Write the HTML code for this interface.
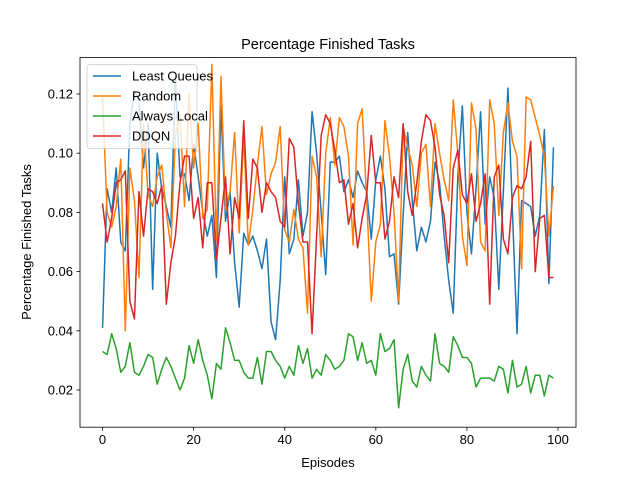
<!DOCTYPE html>
<html><head><meta charset="utf-8"><style>
body{margin:0;background:#fff}
svg{display:block;font-family:"Liberation Sans","DejaVu Sans",sans-serif}
</style></head><body>
<svg id="chart" width="640" height="480" viewBox="0 0 640 480">
<rect width="640" height="480" fill="#fff"/>
<text x="328" y="49" text-anchor="middle" font-size="14.5">Percentage Finished Tasks</text>
<text x="328" y="467" text-anchor="middle" font-size="13">Episodes</text>
<text transform="translate(31,242) rotate(-90)" text-anchor="middle" font-size="13">Percentage Finished Tasks</text>
<g id="plot"></g>
</svg>
<script>
const xTicks = [0, 20, 40, 60, 80, 100];
const yTicks = [0.02, 0.04, 0.06, 0.08, 0.10, 0.12];
const yTickLabels = ["0.02", "0.04", "0.06", "0.08", "0.10", "0.12"];
const seriesNames = ["Least Queues", "Random", "Always Local", "DDQN"];
const leastQueues = [0.041,0.088,0.080,0.095,0.070,0.067,0.110,0.121,0.118,0.095,0.110,0.054,0.100,0.088,0.082,0.075,0.126,0.092,0.093,0.084,0.103,0.092,0.080,0.072,0.079,0.058,0.116,0.077,0.087,0.063,0.048,0.073,0.069,0.072,0.067,0.061,0.071,0.043,0.037,0.057,0.092,0.066,0.071,0.091,0.072,0.080,0.114,0.100,0.080,0.059,0.097,0.097,0.099,0.087,0.091,0.085,0.094,0.090,0.087,0.071,0.091,0.099,0.088,0.065,0.066,0.049,0.079,0.107,0.084,0.067,0.075,0.070,0.077,0.097,0.090,0.072,0.057,0.046,0.092,0.116,0.080,0.066,0.088,0.114,0.076,0.092,0.085,0.054,0.087,0.122,0.080,0.039,0.084,0.083,0.082,0.072,0.079,0.108,0.056,0.102];
const random = [0.119,0.080,0.075,0.082,0.098,0.040,0.095,0.084,0.058,0.110,0.086,0.082,0.092,0.096,0.080,0.068,0.106,0.113,0.082,0.120,0.095,0.110,0.078,0.081,0.130,0.070,0.126,0.081,0.087,0.107,0.073,0.106,0.069,0.081,0.096,0.109,0.086,0.093,0.097,0.109,0.074,0.070,0.081,0.071,0.068,0.046,0.099,0.092,0.065,0.100,0.112,0.096,0.112,0.109,0.099,0.069,0.110,0.115,0.084,0.050,0.070,0.076,0.111,0.099,0.080,0.050,0.109,0.102,0.096,0.082,0.100,0.103,0.082,0.110,0.100,0.091,0.084,0.118,0.100,0.072,0.062,0.117,0.108,0.070,0.067,0.118,0.110,0.079,0.107,0.117,0.104,0.099,0.061,0.119,0.118,0.112,0.106,0.099,0.072,0.089];
const alwaysLocal = [0.033,0.032,0.039,0.034,0.026,0.028,0.036,0.026,0.025,0.028,0.032,0.031,0.022,0.027,0.031,0.028,0.024,0.020,0.024,0.035,0.029,0.037,0.030,0.025,0.017,0.029,0.027,0.041,0.036,0.030,0.030,0.026,0.024,0.024,0.031,0.022,0.033,0.033,0.030,0.028,0.024,0.028,0.025,0.035,0.029,0.034,0.024,0.027,0.025,0.032,0.030,0.027,0.028,0.030,0.039,0.038,0.030,0.036,0.029,0.030,0.025,0.039,0.033,0.034,0.037,0.014,0.027,0.032,0.023,0.021,0.028,0.025,0.023,0.039,0.029,0.028,0.026,0.038,0.035,0.031,0.031,0.029,0.021,0.024,0.024,0.024,0.023,0.028,0.027,0.019,0.030,0.021,0.022,0.028,0.019,0.025,0.025,0.018,0.025,0.024];
const ddqn = [0.083,0.070,0.078,0.090,0.091,0.094,0.050,0.044,0.087,0.072,0.088,0.087,0.083,0.089,0.049,0.063,0.072,0.090,0.099,0.099,0.078,0.085,0.068,0.090,0.090,0.064,0.078,0.092,0.066,0.085,0.078,0.111,0.078,0.098,0.095,0.080,0.090,0.087,0.085,0.077,0.075,0.105,0.102,0.083,0.070,0.070,0.039,0.072,0.106,0.113,0.110,0.101,0.090,0.091,0.076,0.083,0.068,0.078,0.086,0.106,0.090,0.090,0.071,0.077,0.092,0.085,0.110,0.087,0.079,0.090,0.104,0.113,0.111,0.102,0.086,0.079,0.063,0.095,0.101,0.086,0.083,0.093,0.077,0.083,0.093,0.049,0.092,0.096,0.071,0.066,0.085,0.089,0.088,0.092,0.104,0.060,0.078,0.079,0.058,0.058];

const NS = "http://www.w3.org/2000/svg";
const L = 80, R = 576, T = 57.6, B = 427.2;
const xMin = -4.95, xMax = 103.95;
const yMin = 0.02 - 37.2/2960, yMax = 0.02 + 332.4/2960;
function xs(v){ return L + (v - xMin) / (xMax - xMin) * (R - L); }
function ys(v){ return B - (v - yMin) / (yMax - yMin) * (B - T); }
const plot = document.getElementById("plot");
function mk(tag, attrs){ const e = document.createElementNS(NS, tag); for (const k in attrs) e.setAttribute(k, attrs[k]); return e; }

const colors = ["#1f77b4", "#ff7f0e", "#2ca02c", "#d62728"];
const allSeries = [leastQueues, random, alwaysLocal, ddqn];
const sNames = ["least-queues-line", "random-line", "always-local-line", "ddqn-line"];
allSeries.forEach((s, i) => {
  const d = s.map((v, j) => (j ? "L" : "M") + xs(j).toFixed(2) + "," + ys(v).toFixed(2)).join("");
  const p = mk("path", {d: d, fill: "none", stroke: colors[i], "stroke-width": 1.5, "stroke-linejoin": "round"});
  
  
  plot.appendChild(p);
});

const frame = mk("rect", {x: L, y: T, width: R - L, height: B - T, fill: "none", stroke: "#000", "stroke-width": 0.8});


plot.appendChild(frame);

xTicks.forEach(t => {
  const x = xs(t);
  const tk = mk("line", {x1: x, x2: x, y1: B, y2: B + 3.5, stroke: "#000", "stroke-width": 0.8});
  
  
  plot.appendChild(tk);
  const tx = mk("text", {x: x, y: B + 17, "text-anchor": "middle", "font-size": 13});
  
  
  tx.textContent = t;
  plot.appendChild(tx);
});
yTicks.forEach((t, i) => {
  const y = ys(t);
  const tk = mk("line", {x1: L - 3.5, x2: L, y1: y, y2: y, stroke: "#000", "stroke-width": 0.8});
  
  
  plot.appendChild(tk);
  const tx = mk("text", {x: L - 7, y: y + 4.5, "text-anchor": "end", "font-size": 13});
  
  
  tx.textContent = yTickLabels[i];
  plot.appendChild(tx);
});

const lg = mk("g", {});


plot.appendChild(lg);
const box = mk("rect", {x: 87, y: 64.5, width: 110, height: 84, rx: 3, fill: "#fff", "fill-opacity": 0.8, stroke: "#ccc", "stroke-width": 0.8});


lg.appendChild(box);
seriesNames.forEach((n, i) => {
  const y = 76 + i * 20;
  const ln = mk("line", {x1: 93, x2: 121, y1: y, y2: y, stroke: colors[i], "stroke-width": 1.5});
  
  
  lg.appendChild(ln);
  const tx = mk("text", {x: 132, y: y + 4.5, "font-size": 13});
  
  
  tx.textContent = n;
  lg.appendChild(tx);
});
</script>
</body></html>
